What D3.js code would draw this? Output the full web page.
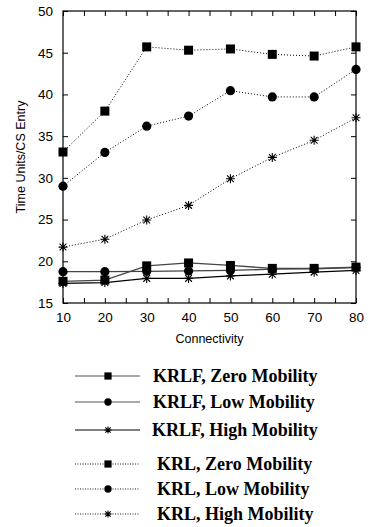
<!DOCTYPE html>
<html><head><meta charset="utf-8">
<script src="https://cdn.jsdelivr.net/npm/d3@7"></script>
<style>body{margin:0;background:#fff}svg{display:block}</style>
</head><body>
<svg id="c" width="369" height="527"></svg>
<script>
const connectivity = [10,20,30,40,50,60,70,80];
const krlfZero = [17.6,17.75,19.45,19.8,19.5,19.15,19.15,19.3];
const krlfLow  = [18.75,18.75,18.8,18.85,18.9,19.05,19.1,19.25];
const krlfHigh = [17.35,17.45,17.95,17.95,18.25,18.45,18.7,18.9];
const krlZero  = [33.1,38.0,45.7,45.3,45.45,44.8,44.6,45.7];
const krlLow   = [29.0,33.05,36.2,37.4,40.45,39.7,39.7,43.0];
const krlHigh  = [21.7,22.65,24.95,26.7,29.9,32.45,34.5,37.2];
const yTicks = [15,20,25,30,35,40,45,50];
const xTicks = [10,20,30,40,50,60,70,80];
const xMinor = [15,25,35,45,55,65,75];
const seriesNames = ["KRLF, Zero Mobility","KRLF, Low Mobility","KRLF, High Mobility","KRL, Zero Mobility","KRL, Low Mobility","KRL, High Mobility"];
const seriesValues = [krlfZero,krlfLow,krlfHigh,krlZero,krlLow,krlHigh];
const seriesMarkers = ["square","circle","star","square","circle","star"];
const seriesDotted = [false,false,false,true,true,true];

const svg = d3.select("#c");
const L=63,R=356,T=11,B=303;
const x = d3.scaleLinear().domain([10,80]).range([L,R]);
const y = d3.scaleLinear().domain([15,50]).range([B,T]);
const g = svg.append("g");

g.append("rect").attr("x",L).attr("y",T).attr("width",R-L).attr("height",B-T)
 .attr("fill","none").attr("stroke","#000").attr("stroke-width",1.2);

const tl = 5;
const axB = d3.axisBottom(x).tickValues(xTicks).tickSize(-tl).tickSizeOuter(0).tickPadding(tl+4);
const gb = g.append("g").attr("transform",`translate(0,${B})`).call(axB);
const axT = d3.axisTop(x).tickValues(xTicks.concat(xMinor)).tickSize(-tl).tickSizeOuter(0).tickFormat("");
const gt = g.append("g").attr("transform",`translate(0,${T})`).call(axT);
const axBm = d3.axisBottom(x).tickValues(xMinor).tickSize(-tl).tickSizeOuter(0).tickFormat("");
const gbm = g.append("g").attr("transform",`translate(0,${B})`).call(axBm);
const axL = d3.axisLeft(y).tickValues(yTicks).tickSize(-tl).tickSizeOuter(0).tickPadding(tl+5);
const gl = g.append("g").attr("transform",`translate(${L},0)`).call(axL);
const axR = d3.axisRight(y).tickValues(yTicks).tickSize(-tl).tickSizeOuter(0).tickFormat("");
const gr = g.append("g").attr("transform",`translate(${R},0)`).call(axR);
[gb,gt,gbm,gl,gr].forEach(a=>{a.select(".domain").remove();a.selectAll("line").attr("stroke","#000");
  a.selectAll("text").attr("font-family","'Liberation Sans',Arial,sans-serif").attr("font-size",13.5).attr("fill","#000");});
gb.selectAll("text").attr("dy","0.71em");

g.append("text").attr("x",(L+R)/2).attr("y",343).attr("text-anchor","middle")
 .attr("font-family","'Liberation Sans',Arial,sans-serif").attr("font-size",12.5).text("Connectivity");
g.append("text").attr("transform",`translate(25,${(T+B)/2}) rotate(-90)`).attr("text-anchor","middle")
 .attr("font-family","'Liberation Sans',Arial,sans-serif").attr("font-size",12.5).text("Time Units/CS Entry");

function marker(sel, type, cx, cy, sc){
  sc = sc||1;
  if(type==="square") sel.append("rect").attr("x",cx-4.5*sc).attr("y",cy-4.5*sc).attr("width",9*sc).attr("height",9*sc).attr("fill","#000");
  else if(type==="circle") sel.append("circle").attr("cx",cx).attr("cy",cy).attr("r",4.6*sc).attr("fill","#000");
  else {
    const s=4.5*sc;
    sel.append("path").attr("d",`M${cx-s},${cy}H${cx+s}M${cx},${cy-s}V${cy+s}M${cx-s*0.75},${cy-s*0.75}L${cx+s*0.75},${cy+s*0.75}M${cx-s*0.75},${cy+s*0.75}L${cx+s*0.75},${cy-s*0.75}`)
      .attr("stroke","#000").attr("stroke-width",1.1).attr("fill","none");
  }
}

const line = d3.line().x((d,i)=>x(connectivity[i])).y(d=>y(d));
seriesValues.forEach((vals,k)=>{
  const sg = g.append("g");
  sg.append("path").attr("d",line(vals)).attr("fill","none")
    .attr("stroke", seriesDotted[k] ? "#000" : (k<2?"#444":"#000"))
    .attr("stroke-width", seriesDotted[k]?1:1.3)
    .attr("stroke-dasharray", seriesDotted[k]?"1,2":null);
  vals.forEach((v,i)=>marker(sg,seriesMarkers[k],x(connectivity[i]),y(v)));
});

const legY = [376,402,430,464,489,514];
const legTextX = [153,153,152,157,157,157];
seriesNames.forEach((n,k)=>{
  const lg = svg.append("g");
  const yy = legY[k];
  lg.append("line").attr("x1",75).attr("x2",140).attr("y1",yy).attr("y2",yy)
    .attr("stroke", seriesDotted[k]?"#000":(k<2?"#555":"#000"))
    .attr("stroke-width", seriesDotted[k]?0.9:1.2)
    .attr("stroke-dasharray", seriesDotted[k]?"1,1.5":null);
  marker(lg, seriesMarkers[k], 108, yy, 0.8);
  lg.append("text").attr("x",legTextX[k]).attr("y",yy).attr("dy","0.33em")
    .attr("font-family","'Liberation Serif','Times New Roman',serif").attr("font-weight","bold")
    .attr("font-size",18).text(n);
});
</script>
</body></html>
